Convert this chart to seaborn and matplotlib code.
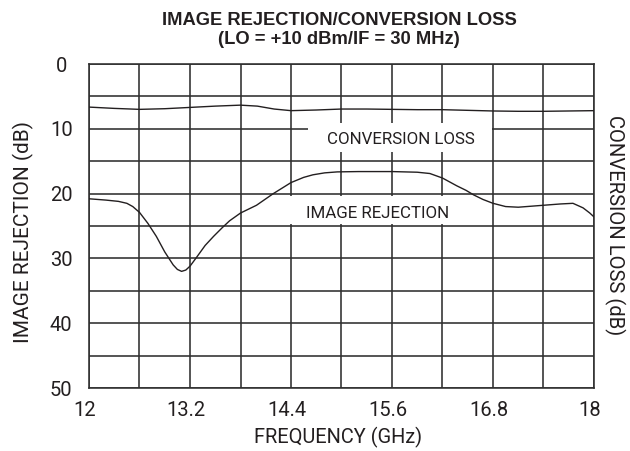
import numpy as np
import pandas as pd
import matplotlib
matplotlib.use("Agg")
import matplotlib.pyplot as plt
import seaborn as sns
from matplotlib.patches import Rectangle
from matplotlib.ticker import FixedLocator, MultipleLocator
from matplotlib.transforms import ScaledTranslation

# ---- data ----
freq_conv = [12.0, 12.3, 12.6, 12.9, 13.2, 13.5, 13.8, 14.0, 14.2, 14.4, 14.7, 15.0,
             15.3, 15.6, 15.9, 16.2, 16.5, 16.8, 17.1, 17.4, 17.7, 18.0]
conv_loss = [6.65, 6.85, 7.0, 6.9, 6.7, 6.5, 6.35, 6.5, 6.95, 7.2, 7.1, 6.95,
             6.95, 7.0, 7.05, 7.05, 7.15, 7.25, 7.3, 7.3, 7.25, 7.2]

freq_ir = [12.0, 12.2, 12.35, 12.45, 12.52, 12.6, 12.7, 12.8, 12.9, 13.0, 13.05, 13.1,
           13.15, 13.2, 13.28, 13.38, 13.48, 13.58, 13.67, 13.8, 13.99, 14.19, 14.4,
           14.55, 14.66, 14.8, 14.95, 15.2, 15.6, 15.9, 16.05, 16.2, 16.37, 16.48,
           16.57, 16.68, 16.8, 16.95, 17.1, 17.4, 17.6, 17.75, 17.87, 17.95, 18.0]
image_rej = [20.8, 21.0, 21.2, 21.5, 22.0, 22.9, 24.6, 26.6, 29.0, 31.0, 31.7, 32.0,
             31.8, 31.2, 29.8, 28.0, 26.6, 25.3, 24.2, 23.0, 21.8, 20.0, 18.3,
             17.5, 17.1, 16.8, 16.65, 16.6, 16.6, 16.7, 16.9, 17.6, 18.8, 19.5,
             20.2, 20.9, 21.5, 22.0, 22.1, 21.8, 21.6, 21.5, 22.2, 23.0, 23.6]

x_ticks = [12, 13.2, 14.4, 15.6, 16.8, 18]
x_tick_labels = ["12", "13.2", "14.4", "15.6", "16.8", "18"]
y_ticks = [0, 10, 20, 30, 40, 50]
y_tick_labels = ["0", "10", "20", "30", "40", "50"]

title_1 = "IMAGE REJECTION/CONVERSION LOSS"
title_2 = "(LO = +10 dBm/IF = 30 MHz)"

# ---- style ----
sns.set_theme(style="white")
plt.rcParams["font.family"] = ["Roboto", "Liberation Sans", "DejaVu Sans"]
plt.rcParams["text.color"] = "#231f20"
plt.rcParams["axes.labelcolor"] = "#231f20"
plt.rcParams["xtick.color"] = "#231f20"
plt.rcParams["ytick.color"] = "#231f20"

W, H = 630, 451
fig = plt.figure(figsize=(W / 100, H / 100), dpi=100)
L, R, T, B = 89, 594, 64, 388
ax = fig.add_axes([L / W, 1 - B / H, (R - L) / W, (B - T) / H])

line_col = "#231f20"
grid_col = "#2e2e2e"

sns.lineplot(x=freq_conv, y=conv_loss, ax=ax, color=line_col, lw=1.0,
             estimator=None, sort=False, zorder=4)
sns.lineplot(x=freq_ir, y=image_rej, ax=ax, color=line_col, lw=1.0,
             estimator=None, sort=False, zorder=4)

ax.set_xlim(12, 18)
ax.set_ylim(50, 0)
ax.xaxis.set_major_locator(FixedLocator(x_ticks))
ax.set_xticklabels(x_tick_labels)
ax.xaxis.set_minor_locator(MultipleLocator(0.6))
ax.yaxis.set_major_locator(FixedLocator(y_ticks))
ax.set_yticklabels(y_tick_labels)
ax.yaxis.set_minor_locator(MultipleLocator(5))
ax.grid(True, which="both", color=grid_col, lw=1.15)
ax.set_axisbelow(True)
ax.tick_params(which="both", length=0)
ax.tick_params(axis="x", pad=9, labelsize=14.5)
ax.tick_params(axis="y", pad=20, labelsize=14.5)
for lab in ax.get_yticklabels():
    lab.set_horizontalalignment("center")
shift = ScaledTranslation(-4 / 100, 0, fig.dpi_scale_trans)
for lab in ax.get_xticklabels():
    lab.set_transform(lab.get_transform() + shift)
for s in ax.spines.values():
    s.set_visible(True)
    s.set_color(grid_col)
    s.set_linewidth(1.15)

def px2x(px):
    return 12 + (px - L) / (R - L) * 6

def px2y(py):
    return (py - T) / (B - T) * 50

# white label boxes interrupting the grid
ax.add_patch(Rectangle((px2x(308), px2y(123)), px2x(492) - px2x(308), px2y(152) - px2y(123),
                       facecolor="white", edgecolor="none", zorder=2))
ax.add_patch(Rectangle((px2x(289), px2y(196)), px2x(467) - px2x(289), px2y(224) - px2y(196),
                       facecolor="white", edgecolor="none", zorder=2))
ax.text(px2x(401), px2y(144.3), "CONVERSION LOSS", ha="center", va="baseline",
        fontsize=12.2, zorder=5)
ax.text(px2x(378), px2y(218), "IMAGE REJECTION", ha="center", va="baseline",
        fontsize=12.2, zorder=5)

ax.set_xlabel("FREQUENCY (GHz)", fontsize=14.4)
ax.xaxis.label.set_va("top")
ax.xaxis.set_label_coords((338 - L) / (R - L), -(427 - B) / (B - T))
ax.set_ylabel("IMAGE REJECTION (dB)", fontsize=15)
ax.yaxis.label.set_va("center")
ax.yaxis.set_label_coords((23 - L) / (R - L), (B - 232) / (B - T))
ax.text((615 - L) / (R - L), (B - 225) / (B - T), "CONVERSION LOSS (dB)",
        rotation=-90, ha="center", va="center", fontsize=14.6, transform=ax.transAxes)

title_font = ["Liberation Sans", "DejaVu Sans"]
fig.text(339 / W, 1 - 25 / H, title_1, ha="center", va="baseline",
         fontsize=13.2, fontweight="bold", family=title_font)
fig.text(339 / W, 1 - 44.5 / H, title_2, ha="center", va="baseline",
         fontsize=13.2, fontweight="bold", family=title_font)

fig.savefig("out.png", dpi=100)
